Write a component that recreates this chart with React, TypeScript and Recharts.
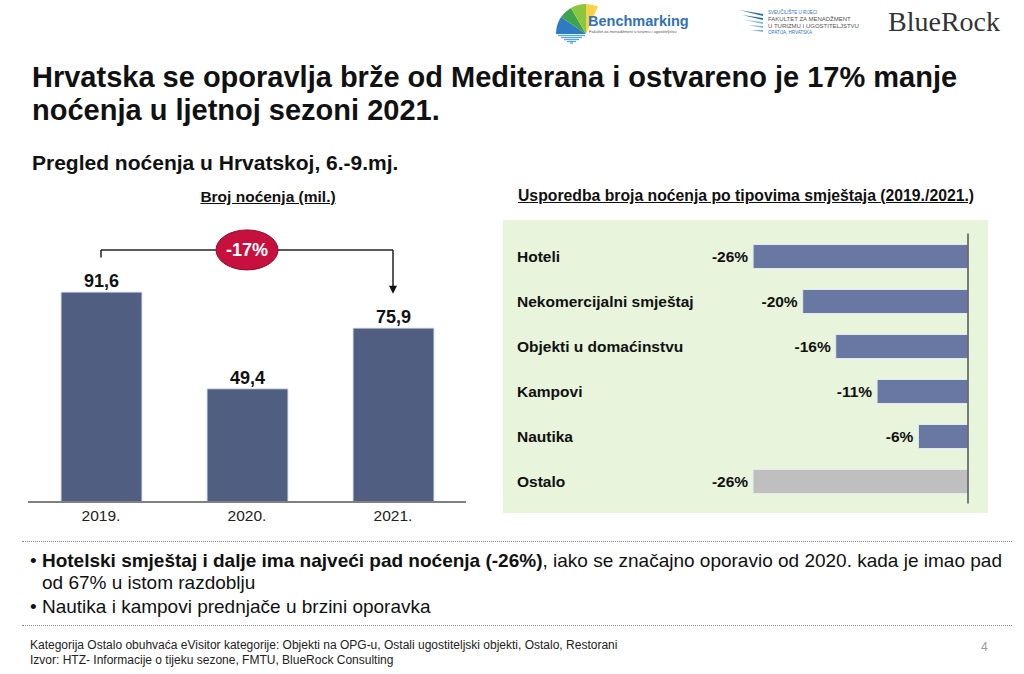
import React from 'react';
import {
    BarChart,
    Bar,
    XAxis,
    YAxis,
    LabelList,
    ReferenceLine,
    ReferenceDot,
    Cell
} from 'recharts';

const years = ['2019.', '2020.', '2021.'];
const nights = [91.6, 49.4, 75.9];
const totalChange = '-17%';

const accTypes = ['Hoteli', 'Nekomercijalni smještaj', 'Objekti u domaćinstvu', 'Kampovi', 'Nautika', 'Ostalo'];
const accChange = [-26, -20, -16, -11, -6, -26];

const FONT = '"Liberation Sans", Arial, sans-serif';
const BAR_DARK = '#4F5E81';
const BAR_BLUE = '#6878A3';
const BAR_GREY = '#BFBFBF';

const nightsData = years.map((year, i) => ({ year, value: nights[i] }));
const typeData = accTypes.map((name, i) => ({ name, value: accChange[i] }));

// bracket above the bars, in value units
const bracketLevel = 110;
const bracketTick = 3.3;
const arrowEnd = nights[2] + 15;

const fmtComma = (v: any) => String(v).replace('.', ',');

const Bubble = (props: any) => {
    const { cx, cy } = props;
    return (
        <g>
            <ellipse cx={cx} cy={cy} rx={31} ry={20} fill="#C8103E" stroke="#8E0B2C" strokeWidth={1} />
            <text x={cx} y={cy} textAnchor="middle" dominantBaseline="central" fill="#fff" fontSize={18} fontWeight="bold" fontFamily={FONT}>
                {totalChange}
            </text>
        </g>
    );
};

const ArrowHead = (props: any) => {
    const { cx, cy } = props;
    return <path d={`M${cx - 4},${cy - 8} L${cx + 4},${cy - 8} L${cx},${cy} Z`} fill="#111" />;
};

const TypeTick = (props: any) => {
    const { y, payload } = props;
    return (
        <text x={14} y={y} dominantBaseline="central" fontSize={15.5} fontWeight="bold" fill="#111" fontFamily={FONT}>
            {payload.value}
        </text>
    );
};

const ChangeLabel = (props: any) => {
    const { x, y, width, height, value } = props;
    const left = Math.min(x, x + width);
    return (
        <text x={left - 5} y={y + height / 2} textAnchor="end" dominantBaseline="central" fontSize={15.5} fontWeight="bold" fill="#111" fontFamily={FONT}>
            {`${value}%`}
        </text>
    );
};

function NightsChart() {
    return (
        <BarChart width={480} height={320} data={nightsData} margin={{ top: 7, right: 14, bottom: 0, left: 28 }}>
            <XAxis
                dataKey="year"
                height={38}
                axisLine={{ stroke: '#808080', strokeWidth: 2 }}
                tickLine={false}
                tick={{ fill: '#222', fontSize: 15.5, fontFamily: FONT }}
            />
            <YAxis hide domain={[0, 120]} />
            <Bar dataKey="value" fill={BAR_DARK} barSize={81} stroke="#DDE1EA" strokeWidth={1} isAnimationActive={false}>
                <LabelList dataKey="value" position="top" formatter={fmtComma} fill="#111" fontSize={18} fontWeight="bold" fontFamily={FONT} />
            </Bar>
            <ReferenceLine segment={[{ x: years[0], y: bracketLevel - bracketTick }, { x: years[0], y: bracketLevel }]} stroke="#222" strokeWidth={1.5} />
            <ReferenceLine segment={[{ x: years[0], y: bracketLevel }, { x: years[2], y: bracketLevel }]} stroke="#222" strokeWidth={1.5} />
            <ReferenceLine segment={[{ x: years[2], y: bracketLevel }, { x: years[2], y: arrowEnd + 3 }]} stroke="#222" strokeWidth={1.5} />
            <ReferenceDot x={years[2]} y={arrowEnd} shape={ArrowHead} />
            <ReferenceDot x={years[1]} y={bracketLevel} shape={Bubble} />
        </BarChart>
    );
}

function TypesChart() {
    return (
        <BarChart width={485} height={293} data={typeData} layout="vertical" margin={{ top: 13.5, right: 20, bottom: 9.5, left: 0 }}>
            <XAxis type="number" hide domain={[-30, 0]} />
            <YAxis type="category" dataKey="name" width={217} axisLine={false} tickLine={false} tick={<TypeTick />} />
            <Bar dataKey="value" barSize={24} stroke="#E4E8F0" strokeWidth={1} isAnimationActive={false}>
                {typeData.map((d) => (
                    <Cell key={d.name} fill={d.name === 'Ostalo' ? BAR_GREY : BAR_BLUE} />
                ))}
                <LabelList dataKey="value" content={<ChangeLabel />} />
            </Bar>
            <ReferenceLine x={0} stroke="#555" strokeWidth={1.5} />
        </BarChart>
    );
}

function Logos() {
    return (
        <>
            <svg width={140} height={44} style={{ position: 'absolute', left: 553, top: 0 }}>
                <path d="M33,34 L3,34 A30,30 0 0 1 8,17 Z" fill="#2E7BC4" />
                <path d="M33,34 L8,17 A30,30 0 0 1 18,8 Z" fill="#3FA34D" />
                <path d="M33,34 L18,8 A30,30 0 0 1 33,4 Z" fill="#8CC63F" />
                <path d="M33,34 L33,4 A30,30 0 0 1 45,6.5 Z" fill="#F6D34A" />
                {[35.5, 37.5, 39.5, 41.5, 43].map((y, i) => (
                    <line key={y} x1={5 + i * 3} y1={y} x2={32 - i * 3} y2={y} stroke="#5AA7E0" strokeWidth={1.3} />
                ))}
                <text x={35} y={26} fontSize={14.5} fontWeight="bold" fill="#2F72B8" fontFamily={FONT}>Benchmarking</text>
                <text x={36} y={33} fontSize={4} fill="#555" fontFamily={FONT}>Fakultet za menadžment u turizmu i ugostiteljstvu</text>
            </svg>
            <svg width={140} height={44} style={{ position: 'absolute', left: 733, top: 0 }}>
                {[0, 1, 2, 3, 4].map((i) => (
                    <path key={i} d={`M${6 + i * 3},${10 + i * 5} L${30},${14 + i * 4} L${30},${16 + i * 4} Z`} fill={i < 2 ? '#1F6FB8' : '#7FB6E0'} />
                ))}
                <text x={35} y={14} fontSize={4.5} fill="#2F72B8" fontFamily={FONT}>SVEUČILIŠTE U RIJECI</text>
                <text x={35} y={21} fontSize={6} fill="#555" fontFamily={FONT}>FAKULTET ZA MENADŽMENT</text>
                <text x={35} y={28} fontSize={6} fill="#555" fontFamily={FONT}>U TURIZMU I UGOSTITELJSTVU</text>
                <text x={35} y={34} fontSize={4.5} fill="#2F72B8" fontFamily={FONT}>OPATIJA, HRVATSKA</text>
            </svg>
            <div style={{ position: 'absolute', left: 888, top: 7, fontFamily: '"Liberation Serif", serif', fontSize: 28, color: '#333', lineHeight: '30px' }}>
                BlueRock
            </div>
        </>
    );
}

export default function App() {
    const abs = (left: number, top: number): React.CSSProperties => ({ position: 'absolute', left, top });
    return (
        <div style={{ position: 'fixed', left: 0, top: 0, width: 1024, height: 674, background: '#fff', fontFamily: FONT, color: '#111', overflow: 'hidden' }}>
            <Logos />
            <div style={{ ...abs(32, 61), fontSize: 29, fontWeight: 'bold', lineHeight: '33px', width: 990 }}>
                Hrvatska se oporavlja brže od Mediterana i ostvareno je 17% manje
                <br />
                noćenja u ljetnoj sezoni 2021.
            </div>
            <div style={{ ...abs(32, 151), fontSize: 21, fontWeight: 'bold', lineHeight: '24px' }}>
                Pregled noćenja u Hrvatskoj, 6.-9.mj.
            </div>
            <div style={{ ...abs(0, 187), width: 536, textAlign: 'center', fontSize: 15.5, fontWeight: 'bold', textDecoration: 'underline', lineHeight: '20px' }}>
                Broj noćenja (mil.)
            </div>
            <div style={{ ...abs(518, 186), fontSize: 15.75, fontWeight: 'bold', textDecoration: 'underline', lineHeight: '20px' }}>
                Usporedba broja noćenja po tipovima smještaja (2019./2021.)
            </div>
            <div style={{ ...abs(0, 220) }}>
                <NightsChart />
            </div>
            <div style={{ ...abs(503, 220), width: 485, height: 293, background: '#E8F4DB' }}>
                <TypesChart />
            </div>
            <div style={{ ...abs(22, 541), width: 990, borderTop: '1px dotted #888' }} />
            <div style={{ ...abs(30, 550), width: 982, fontSize: 19, lineHeight: '22px' }}>
                <div style={{ paddingLeft: 12, textIndent: -12 }}>
                    • <b>Hotelski smještaj i dalje ima najveći pad noćenja (-26%)</b>, iako se značajno oporavio od 2020. kada je imao pad od 67% u istom razdoblju
                </div>
                <div style={{ paddingLeft: 12, textIndent: -12, marginTop: 2 }}>• Nautika i kampovi prednjače u brzini oporavka</div>
            </div>
            <div style={{ ...abs(22, 625), width: 990, borderTop: '1px dotted #888' }} />
            <div style={{ ...abs(30, 638), fontSize: 12, lineHeight: '15px', color: '#222' }}>
                Kategorija Ostalo obuhvaća eVisitor kategorije: Objekti na OPG-u, Ostali ugostiteljski objekti, Ostalo, Restorani
                <br />
                Izvor: HTZ- Informacije o tijeku sezone, FMTU, BlueRock Consulting
            </div>
            <div style={{ ...abs(981, 640), fontSize: 12, color: '#999' }}>4</div>
        </div>
    );
}
